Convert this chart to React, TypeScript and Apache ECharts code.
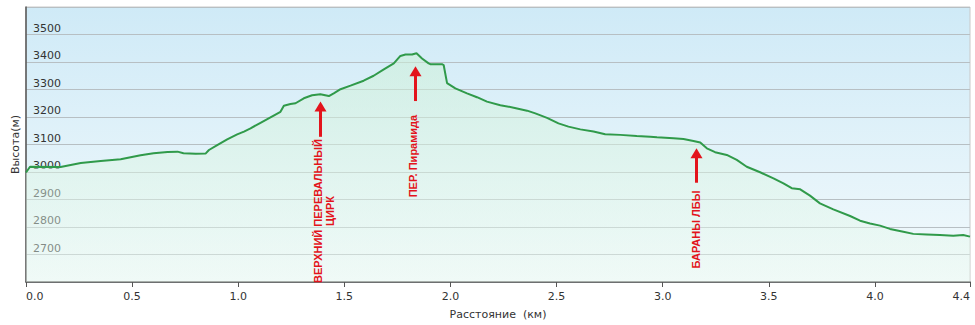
import React, { useEffect, useRef } from 'react';
import * as echarts from 'echarts';

const distanceKm = [0, 0.019, 0.163, 0.258, 0.352, 0.446, 0.54, 0.601, 0.667, 0.714, 0.742, 0.8, 0.846, 0.862, 0.901, 0.948, 0.995, 1.027, 1.058, 1.105, 1.152, 1.199, 1.215, 1.246, 1.27, 1.309, 1.348, 1.387, 1.427, 1.45, 1.482, 1.529, 1.591, 1.638, 1.686, 1.733, 1.764, 1.788, 1.819, 1.84, 1.866, 1.897, 1.905, 1.96, 1.968, 1.984, 2.023, 2.078, 2.125, 2.172, 2.235, 2.298, 2.361, 2.4, 2.455, 2.509, 2.556, 2.612, 2.674, 2.729, 2.8, 2.878, 2.941, 2.973, 3.051, 3.098, 3.145, 3.177, 3.208, 3.247, 3.302, 3.349, 3.396, 3.459, 3.522, 3.569, 3.608, 3.648, 3.694, 3.741, 3.804, 3.883, 3.93, 3.977, 4.024, 4.071, 4.134, 4.181, 4.244, 4.306, 4.369, 4.416, 4.448];
const elevationM = [2998, 3019, 3018, 3033, 3040, 3046, 3061, 3068, 3073, 3074, 3068, 3066, 3067, 3080, 3098, 3119, 3137, 3147, 3159, 3179, 3199, 3219, 3241, 3247, 3250, 3268, 3279, 3283, 3276, 3286, 3301, 3314, 3332, 3350, 3373, 3395, 3422, 3427, 3427, 3432, 3413, 3395, 3392, 3392, 3389, 3323, 3304, 3286, 3272, 3256, 3243, 3234, 3223, 3213, 3197, 3177, 3165, 3155, 3147, 3137, 3135, 3131, 3128, 3126, 3123, 3120, 3113, 3107, 3086, 3072, 3062, 3044, 3019, 2999, 2977, 2959, 2941, 2937, 2914, 2886, 2864, 2840, 2823, 2813, 2805, 2793, 2783, 2775, 2773, 2771, 2768, 2771, 2765];

const xMin = 0;
const xMax = 4.448;
const xInterval = 0.5;
const yMin = 2600;
const yMax = 3600;
const yInterval = 100;

const annotationLabels = ['ВЕРХНИЙ ПЕРЕВАЛЬНЫЙ\nЦИРК', 'ПЕР. Пирамида', 'БАРАНЫ ЛБЫ'];
const annotationKm = [1.384, 1.831, 3.158];
const arrowTipM = [3256, 3385, 3086];
const arrowBaseM = [3128, 3258, 2961];
const labelCenterKm = [1.406, 1.825, 3.158];
const labelCenterM = [2858, 3058, 2791];

const RED = '#e3141c';

export default function App() {
  const ref = useRef<HTMLDivElement>(null);
  useEffect(() => {
    const chart = echarts.init(ref.current!, null, { renderer: 'svg' });
    chart.setOption({
      animation: false,
      backgroundColor: '#ffffff',
      textStyle: { fontFamily: 'DejaVu Sans' },
      grid: {
        left: 26,
        right: 5,
        top: 7,
        bottom: 43,
        outerBoundsMode: 'none',
        containLabel: false,
        show: true,
        borderColor: '#c8c8c8',
        borderWidth: 1,
        backgroundColor: new echarts.graphic.LinearGradient(0, 0, 0, 1, [
          { offset: 0, color: '#cfeaf7' },
          { offset: 1, color: '#f3fafc' },
        ]),
      },
      xAxis: {
        type: 'value',
        min: xMin,
        max: xMax,
        interval: xInterval,
        name: 'Расстояние  (км)',
        nameLocation: 'middle',
        nameGap: 27,
        nameTextStyle: { fontSize: 11, color: '#333', fontFamily: 'DejaVu Sans' },
        axisLine: { show: true, lineStyle: { color: '#555', width: 1.5 } },
        axisTick: { show: true, length: 5, lineStyle: { color: '#555' } },
        axisLabel: {
          fontSize: 11,
          color: '#333',
          margin: 9,
          alignMinLabel: 'left',
          alignMaxLabel: 'right',
          formatter: (v: number) => v.toFixed(1),
        },
        splitLine: { show: false },
      },
      yAxis: {
        type: 'value',
        min: yMin,
        max: yMax,
        interval: yInterval,
        name: 'Высота(м)',
        nameLocation: 'middle',
        nameGap: 5,
        nameMoveOverlap: false,
        nameTextStyle: { fontSize: 11, color: '#333', fontFamily: 'DejaVu Sans' },
        axisLine: { show: true, lineStyle: { color: '#555', width: 1.5 } },
        axisTick: { show: false },
        axisLabel: {
          inside: true,
          margin: 7,
          fontSize: 11,
          color: '#333',
          verticalAlign: 'bottom',
          padding: [0, 0, 1, 0],
          formatter: (v: number) => (v === yMin || v === yMax ? '' : String(v)),
        },
        splitLine: { show: true, lineStyle: { color: '#b7bfc3', width: 1 } },
      },
      series: [
        {
          type: 'line',
          data: distanceKm.map((d, i) => [d, elevationM[i]]),
          showSymbol: false,
          symbol: 'none',
          lineStyle: { color: '#309a4a', width: 2 },
          areaStyle: {
            origin: 'start',
            color: new echarts.graphic.LinearGradient(0, 0, 0, 1, [
              { offset: 0, color: 'rgba(205,240,215,0.8)' },
              { offset: 1, color: 'rgba(235,250,240,0.6)' },
            ]),
          },
          z: 3,
        },
      ],
    });

    const graphics: any[] = [];
    annotationKm.forEach((km, i) => {
      const tip = chart.convertToPixel({ gridIndex: 0 }, [km, arrowTipM[i]]) as number[];
      const base = chart.convertToPixel({ gridIndex: 0 }, [km, arrowBaseM[i]]) as number[];
      const px = Math.round(tip[0]) + 0.5;
      graphics.push({
        type: 'line',
        shape: { x1: px, y1: base[1], x2: px, y2: tip[1] + 8 },
        style: { stroke: RED, lineWidth: 3 },
        z: 10,
      });
      graphics.push({
        type: 'polygon',
        shape: { points: [[px - 6, tip[1] + 10], [px + 6, tip[1] + 10], [px, tip[1]]] },
        style: { fill: RED },
        z: 10,
      });
      const c = chart.convertToPixel({ gridIndex: 0 }, [labelCenterKm[i], labelCenterM[i]]) as number[];
      graphics.push({
        type: 'text',
        x: c[0],
        y: c[1],
        rotation: Math.PI / 2,
        style: {
          text: annotationLabels[i],
          align: 'center',
          verticalAlign: 'middle',
          fill: RED,
          font: 'bold 11px "Liberation Sans", Arial, sans-serif',
          lineHeight: 12,
        },
        z: 10,
      });
    });
    chart.setOption({ graphic: graphics });
    return () => chart.dispose();
  }, []);
  return <div ref={ref} style={{ position: 'fixed', left: 0, top: 0, width: 975, height: 325 }} />;
}
